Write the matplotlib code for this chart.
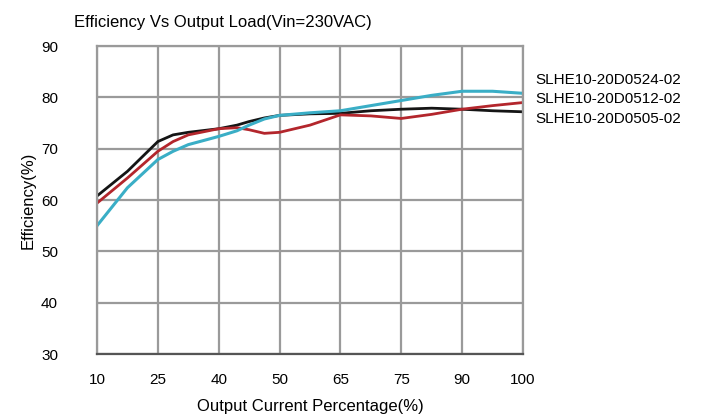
import numpy as np
import matplotlib
matplotlib.use("Agg")
import matplotlib.pyplot as plt

# x axis is categorical: ticks evenly spaced regardless of value
load_labels = ["10", "25", "40", "50", "65", "75", "90", "100"]

# readings taken at tick positions and half-way between them
pos = [0, 0.5, 1, 1.25, 1.5, 2, 2.3, 2.5, 2.75, 3, 3.5, 4, 4.5, 5, 5.5, 6, 6.5, 7]

eff_0505 = [60.8, 65.6, 71.4, 72.7, 73.2, 73.9, 74.6, 75.3, 76.0, 76.5,
            76.8, 76.9, 77.4, 77.7, 77.9, 77.7, 77.4, 77.2]
eff_0512 = [59.4, 64.3, 69.5, 71.4, 72.7, 73.9, 74.1, 73.7, 73.0, 73.2,
            74.6, 76.6, 76.4, 75.9, 76.7, 77.7, 78.4, 79.0]
eff_0524 = [55.0, 62.4, 67.9, 69.5, 70.8, 72.4, 73.5, 74.6, 75.8, 76.5,
            77.0, 77.4, 78.4, 79.4, 80.4, 81.2, 81.2, 80.8]

names = ["SLHE10-20D0524-02", "SLHE10-20D0512-02", "SLHE10-20D0505-02"]

plt.rcParams["font.family"] = ["Liberation Sans", "DejaVu Sans"]

fig = plt.figure(figsize=(7.04, 4.19), dpi=100)
ax = fig.add_axes([0.1378, 0.155, 0.605, 0.735])

ax.plot(pos, eff_0505, color="#151515", lw=2)
ax.plot(pos, eff_0512, color="#b3262c", lw=2)
ax.plot(pos, eff_0524, color="#3aaec6", lw=2.2)

ax.set_xlim(0, len(load_labels) - 1)
ax.set_ylim(30, 90)
ax.set_xticks(range(len(load_labels)))
ax.set_xticklabels(load_labels)
ax.set_yticks(range(30, 91, 10))
ax.grid(True, color="#9a9a9a", lw=1.6)
ax.set_axisbelow(True)
ax.tick_params(length=0, pad=14, labelsize=11)
ax.tick_params(axis="y", pad=28)
for side in ["top", "right", "left"]:
    ax.spines[side].set_color("#9a9a9a")
    ax.spines[side].set_linewidth(1.6)
ax.spines["bottom"].set_color("#555555")
ax.spines["bottom"].set_linewidth(1.6)

ax.set_title("Efficiency Vs Output Load(Vin=230VAC)", fontsize=12,
             pad=14, x=0.296)
ax.set_xlabel("Output Current Percentage(%)", fontsize=12, labelpad=8)
ax.set_ylabel("Efficiency(%)", fontsize=12, labelpad=4)

for i, n in enumerate(names):
    fig.text(0.760, 0.810 - i * 0.047, n, fontsize=11, va="center")

fig.savefig("out.png", dpi=100)
